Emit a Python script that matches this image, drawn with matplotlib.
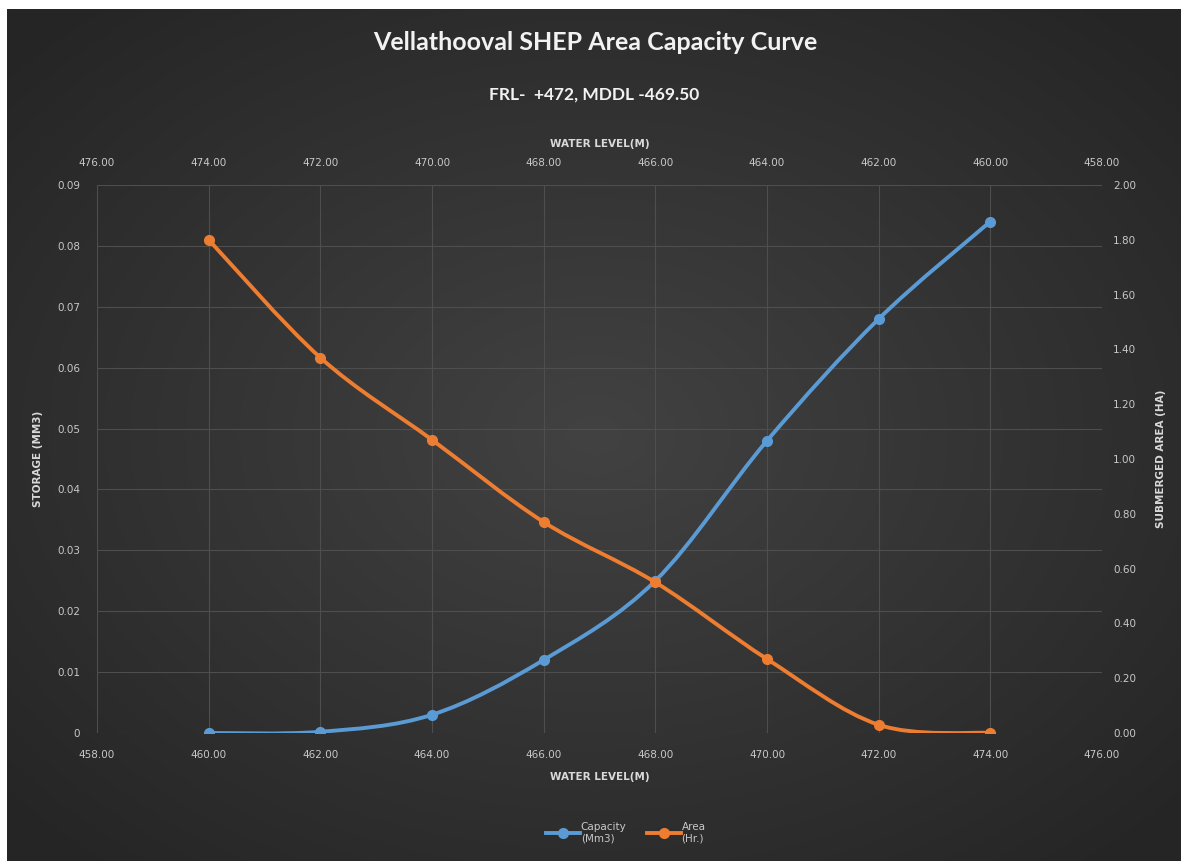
import numpy as np
import matplotlib
matplotlib.use("Agg")
import matplotlib.pyplot as plt
from matplotlib.path import Path
from matplotlib.patches import PathPatch
from matplotlib.lines import Line2D

# storage vs water level (bottom / left axes)
levels = [460, 462, 464, 466, 468, 470, 472, 474]
capacity = [0.0, 0.0002, 0.003, 0.012, 0.025, 0.048, 0.068, 0.084]

# submerged area vs water level (top / right axes, reversed)
area_levels = [474, 472, 470, 468, 466, 464, 462, 460]
area = [1.80, 1.37, 1.07, 0.77, 0.55, 0.27, 0.03, 0.00]

left_ticks = [0, 0.01, 0.02, 0.03, 0.04, 0.05, 0.06, 0.07, 0.08, 0.09]
left_labels = ["0", "0.01", "0.02", "0.03", "0.04", "0.05", "0.06", "0.07", "0.08", "0.09"]
right_ticks = [0.0, 0.2, 0.4, 0.6, 0.8, 1.0, 1.2, 1.4, 1.6, 1.8, 2.0]
x_ticks = [458, 460, 462, 464, 466, 468, 470, 472, 474, 476]

BLUE = "#5B9BD5"
ORANGE = "#ED7D31"
TXT = "#c8c8c8"
GRID = "#4e4e4e"
FONT = ["Liberation Sans Narrow", "DejaVu Sans"]
plt.rcParams["font.family"] = FONT


def smooth_path(xs, ys):
    # catmull-rom style bezier through the points, like excel's smoothed line
    p = np.column_stack([xs, ys]).astype(float)
    verts = [p[0]]
    codes = [Path.MOVETO]
    n = len(p)
    for i in range(n - 1):
        p0 = p[i - 1] if i > 0 else p[i]
        p3 = p[i + 2] if i + 2 < n else p[i + 1]
        c1 = p[i] + (p[i + 1] - p0) / 6.0
        c2 = p[i + 1] - (p3 - p[i]) / 6.0
        verts += [c1, c2, p[i + 1]]
        codes += [Path.CURVE4] * 3
    return Path(verts, codes)


fig = plt.figure(figsize=(11.81, 8.61), dpi=100, facecolor="white")

# dark radial background panel
bg = fig.add_axes([7 / 1181, 0, 1 - 7 / 1181, 1 - 9 / 861], zorder=-10)
gx, gy = np.meshgrid(np.linspace(-1, 1, 400), np.linspace(-1, 1, 300))
r = np.clip(np.sqrt(gx ** 2 + gy ** 2) / 1.35, 0, 1)
c0, c1 = np.array([0x42, 0x42, 0x42]) / 255, np.array([0x25, 0x25, 0x25]) / 255
img = c0[None, None, :] * (1 - r[..., None]) + c1[None, None, :] * r[..., None]
bg.imshow(img, aspect="auto", extent=[0, 1, 0, 1])
bg.axis("off")

pos = [97 / 1181, 1 - 733 / 861, (1102 - 97) / 1181, (733 - 185) / 861]
ax = fig.add_axes(pos)
ax.set_facecolor("none")
ax.set_xlim(458, 476)
ax.set_ylim(0, 0.09)
ax.set_xticks(x_ticks)
ax.set_xticklabels([f"{v:.2f}" for v in x_ticks])
ax.set_yticks(left_ticks)
ax.set_yticklabels(left_labels)
ax.grid(True, color=GRID, lw=0.8)
ax.set_axisbelow(True)

ax2 = ax.twinx()
ax2.set_ylim(0, 2.0)
ax2.set_yticks(right_ticks)
ax2.set_yticklabels([f"{v:.2f}" for v in right_ticks])

ax3 = ax2.twiny()
ax3.set_xlim(476, 458)
ax3.set_xticks(x_ticks)
ax3.set_xticklabels([f"{v:.2f}" for v in x_ticks])

for a in (ax, ax2, ax3):
    for s in a.spines.values():
        s.set_visible(False)
    a.tick_params(length=0, labelsize=7.5, labelcolor=TXT)
ax.tick_params(axis="x", pad=12)
ax.tick_params(axis="y", pad=12)
ax2.tick_params(axis="y", pad=8)
ax3.tick_params(axis="x", pad=12)

# capacity curve
ax.add_patch(PathPatch(smooth_path(levels, capacity), fc="none", ec=BLUE, lw=2.8,
                       capstyle="round", zorder=3))
ax.plot(levels, capacity, ls="none", marker="o", ms=7, color=BLUE, zorder=4)

# area curve
ax3.add_patch(PathPatch(smooth_path(area_levels, area), fc="none", ec=ORANGE, lw=2.8,
                        capstyle="round", zorder=3))
ax3.plot(area_levels, area, ls="none", marker="o", ms=7, color=ORANGE, zorder=4)

lab = dict(color="#d9d9d9", fontsize=7.5, fontweight="bold")
ax.set_xlabel("WATER LEVEL(M)", labelpad=9, **lab)
ax3.set_xlabel("WATER LEVEL(M)", labelpad=8, **lab)
ax.set_ylabel("STORAGE (MM3)", labelpad=10, **lab)
ax2.set_ylabel("SUBMERGED AREA (HA)", labelpad=14, **lab)

fig.text(0.504, 1 - 42 / 861, "Vellathooval SHEP Area Capacity Curve", ha="center", va="center",
         color="#f2f2f2", fontsize=18, fontweight="bold", family=["Lato", "DejaVu Sans"])
fig.text(0.503, 1 - 95 / 861, "FRL-  +472, MDDL -469.50", ha="center", va="center",
         color="#f2f2f2", fontsize=12.5, fontweight="bold", family=["Lato", "DejaVu Sans"])

handles = [Line2D([], [], color=BLUE, lw=2.8, marker="o", ms=7),
           Line2D([], [], color=ORANGE, lw=2.8, marker="o", ms=7)]
fig.legend(handles, ["Capacity\n(Mm3)", "Area\n(Hr.)"], loc="center",
           bbox_to_anchor=(0.53, 1 - 833 / 861), ncol=2, frameon=False, fontsize=7.5,
           labelcolor=TXT, handlelength=3.2, handletextpad=0.1, columnspacing=2.0)

fig.savefig("out.png", dpi=100, facecolor=fig.get_facecolor())
